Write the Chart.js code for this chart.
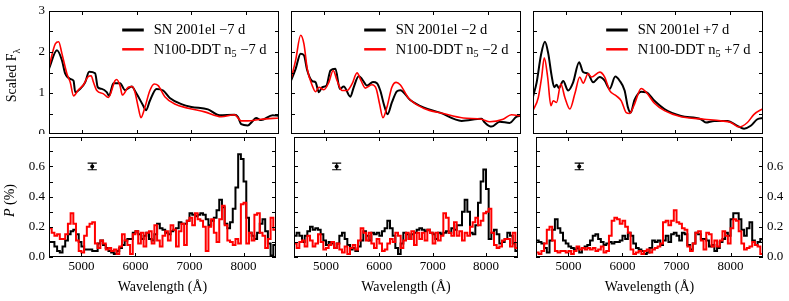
<!DOCTYPE html>
<html><head><meta charset="utf-8"><title>SN 2001el spectropolarimetry vs N100-DDT</title>
<script src="https://cdn.jsdelivr.net/npm/chart.js@4.4.1/dist/chart.umd.min.js"></script>
<style>
html,body{margin:0;padding:0;background:#fff;overflow:hidden}
body{position:relative;width:789px;height:301px}
canvas{position:absolute;display:block}
</style></head><body>
<canvas id="f1"></canvas><canvas id="f2"></canvas><canvas id="f3"></canvas>
<canvas id="p1"></canvas><canvas id="p2"></canvas><canvas id="p3"></canvas>
<script>
// ---------------- data ----------------
const WAVE_MIN = 4400, WAVE_MAX = 8600;
const xTicks = [5000, 6000, 7000, 8000];
const fluxMax = 3;
const fluxTicks = [0, 0.5, 1, 1.5, 2, 2.5, 3];
const fluxLabels = [0, 1, 2, 3];
const polMax = 0.795;
const polTicks = [0, 0.1, 0.2, 0.3, 0.4, 0.5, 0.6, 0.7];
const polLabels = [0, 0.2, 0.4, 0.6];
const epochs = ['\u22127 d', '\u22122 d', '+7 d'];

// scaled flux, SN 2001el (observed)
const wObsM7 = [4400,4545,4636,4697,4788,4848,4879,4970,5060,5133,5242,5291,5364,5454,5497,5576,5697,5788,5909,6000,6121,6170,6242,6363,6485,6606,6818,7000,7303,7515,7788,7848,7909,8030,8121,8182,8273,8485,8600];
const fObsM7 = [1.59,2.04,1.80,1.47,1.34,1.30,1.02,1.10,1.26,1.52,1.48,1.14,1.10,1.02,0.93,1.24,1.24,1.07,1.16,0.98,0.69,0.58,0.81,1.10,1.06,0.88,0.73,0.66,0.60,0.46,0.47,0.42,0.24,0.21,0.32,0.39,0.34,0.46,0.44];
const wObsM2 = [4400,4485,4576,4636,4697,4788,4848,4909,4970,5048,5121,5212,5291,5364,5485,5545,5636,5697,5788,5897,5970,6030,6103,6164,6242,6333,6394,6576,6818,7121,7515,7879,7939,8060,8212,8394,8515,8600];
const fObsM2 = [1.30,1.59,1.96,1.92,1.55,1.29,1.26,1.02,1.14,1.18,1.55,1.59,1.10,1.16,0.91,1.14,1.41,1.34,1.18,1.27,1.24,1.06,0.69,0.48,0.77,1.04,1.07,0.83,0.65,0.52,0.32,0.37,0.28,0.18,0.30,0.27,0.42,0.44];
const wObsP7 = [4400,4467,4545,4618,4679,4739,4788,4830,4873,4951,5042,5133,5242,5315,5406,5497,5618,5709,5800,5903,5982,6073,6133,6182,6254,6376,6467,6618,6800,7103,7466,7557,7709,7951,8133,8254,8376,8497,8600];
const fObsP7 = [0.91,1.26,1.92,2.25,1.96,1.43,1.14,1.20,1.12,1.29,1.06,1.26,1.75,1.51,1.47,1.26,1.39,1.30,1.10,1.40,1.30,1.06,0.65,0.52,0.83,1.03,1.02,0.81,0.61,0.44,0.36,0.28,0.32,0.32,0.20,0.13,0.20,0.36,0.39];

// scaled flux, N100-DDT n5 (model)
const wModM7 = [4400,4515,4576,4636,4727,4788,4848,4939,5030,5109,5170,5212,5273,5394,5485,5606,5636,5697,5739,5848,5921,5970,6030,6079,6151,6242,6321,6394,6515,6697,6939,7242,7545,7788,7909,8030,8273,8600];
const fModM7 = [1.63,2.20,2.25,1.96,1.47,1.26,0.93,1.08,1.20,1.39,1.42,1.26,1.06,0.98,0.89,1.30,1.33,1.18,0.95,1.14,1.16,1.02,0.65,0.40,0.65,1.06,1.22,1.18,0.91,0.73,0.63,0.54,0.42,0.47,0.32,0.32,0.36,0.39];
const wModM2 = [4400,4485,4576,4636,4697,4788,4848,4909,5000,5091,5170,5242,5333,5424,5515,5606,5679,5757,5879,5957,6018,6079,6151,6242,6321,6394,6545,6818,7182,7545,7879,8030,8273,8424,8600];
const fModM2 = [1.34,1.80,2.41,2.20,1.59,1.18,1.03,1.14,1.08,1.26,1.55,1.30,1.06,1.06,1.22,1.49,1.30,1.12,1.20,1.10,0.73,0.40,0.65,1.14,1.26,1.20,0.88,0.63,0.50,0.39,0.36,0.30,0.36,0.47,0.44];
const wModP7 = [4400,4497,4558,4606,4667,4727,4770,4830,4909,4982,5073,5164,5254,5315,5406,5467,5618,5709,5800,5921,6012,6103,6164,6254,6376,6467,6618,6800,7103,7527,7830,8012,8164,8315,8436,8600];
const fModP7 = [0.57,0.89,1.39,1.86,1.39,0.69,0.81,0.77,1.22,0.89,0.61,0.98,1.39,1.24,1.47,1.39,1.51,1.39,1.06,0.93,0.81,0.52,0.50,0.73,1.11,1.02,0.75,0.57,0.42,0.36,0.32,0.28,0.17,0.28,0.48,0.62];

// polarization P (%), 50 A bins starting at 4400 A
const polBinWidth = 50;
const polObsM7 = [0.10,0.10,0.07,0.04,0.03,0.07,0.11,0.15,0.17,0.18, 0.15,0.10,0.07,0.05,0.05,0.05,0.04,0.04,0.09,0.11, 0.08,0.06,0.04,0.03,0.02,0.04,0.06,0.08,0.11,0.12, 0.12,0.16,0.17,0.15,0.12,0.14,0.16,0.12,0.11,0.15, 0.22,0.19,0.18,0.16,0.15,0.17,0.18,0.19,0.23,0.22, 0.22,0.24,0.29,0.28,0.27,0.28,0.29,0.28,0.25,0.21, 0.24,0.26,0.31,0.38,0.33,0.22,0.19,0.23,0.32,0.46, 0.68,0.65,0.50,0.26,0.16,0.14,0.12,0.16,0.22,0.25, 0.17,0.09,0.01,0.08];
const polModM7 = [0.19,0.16,0.14,0.15,0.12,0.12,0.15,0.22,0.29,0.22, 0.11,0.04,0.03,0.14,0.20,0.22,0.23,0.09,0.06,0.11, 0.09,0.05,0.06,0.04,0.05,0.02,0.07,0.15,0.11,0.08, 0.02,0.15,0.17,0.09,0.16,0.07,0.16,0.17,0.09,0.21, 0.11,0.07,0.14,0.17,0.11,0.21,0.18,0.07,0.17,0.22, 0.08,0.24,0.26,0.21,0.29,0.25,0.24,0.20,0.04,0.20, 0.25,0.16,0.10,0.25,0.34,0.21,0.11,0.10,0.08,0.12, 0.09,0.35,0.36,0.09,0.16,0.11,0.28,0.29,0.16,0.14, 0.06,0.12,0.26,0.18];
const polObsM2 = [0.14,0.16,0.14,0.10,0.14,0.17,0.20,0.18,0.19,0.18, 0.15,0.11,0.08,0.10,0.09,0.06,0.09,0.14,0.16,0.12, 0.08,0.05,0.06,0.04,0.07,0.11,0.17,0.14,0.11,0.16, 0.15,0.16,0.14,0.17,0.19,0.24,0.19,0.14,0.06,0.02, 0.09,0.16,0.15,0.12,0.15,0.16,0.18,0.19,0.18,0.17, 0.18,0.16,0.15,0.12,0.16,0.15,0.16,0.17,0.16,0.19, 0.18,0.21,0.21,0.30,0.38,0.30,0.16,0.15,0.21,0.36, 0.50,0.58,0.45,0.12,0.16,0.18,0.15,0.09,0.10,0.12, 0.16,0.14,0.09,0.04];
const polModM2 = [0.09,0.06,0.10,0.11,0.07,0.14,0.11,0.07,0.09,0.15, 0.10,0.05,0.06,0.08,0.10,0.06,0.09,0.05,0.03,0.07, 0.02,0.06,0.08,0.05,0.11,0.19,0.16,0.11,0.16,0.09, 0.06,0.12,0.09,0.04,0.05,0.09,0.12,0.10,0.16,0.14, 0.06,0.11,0.16,0.12,0.17,0.08,0.16,0.12,0.16,0.11, 0.18,0.16,0.09,0.16,0.11,0.14,0.29,0.26,0.16,0.14, 0.23,0.14,0.17,0.11,0.16,0.14,0.20,0.23,0.26,0.21, 0.24,0.29,0.30,0.32,0.16,0.08,0.06,0.07,0.11,0.12, 0.12,0.07,0.16,0.06];
const polObsP7 = [0.11,0.10,0.09,0.06,0.03,0.11,0.18,0.25,0.19,0.16, 0.11,0.09,0.07,0.06,0.05,0.06,0.03,0.06,0.07,0.08, 0.11,0.14,0.15,0.12,0.10,0.08,0.09,0.10,0.09,0.10, 0.10,0.11,0.14,0.12,0.16,0.14,0.09,0.06,0.05,0.04, 0.02,0.03,0.06,0.11,0.10,0.11,0.08,0.11,0.14,0.10, 0.15,0.16,0.14,0.11,0.16,0.15,0.08,0.05,0.09,0.16, 0.15,0.12,0.12,0.11,0.07,0.08,0.04,0.06,0.10,0.12, 0.16,0.14,0.25,0.29,0.29,0.25,0.18,0.14,0.19,0.23, 0.11,0.08,0.10,0.12];
const polModP7 = [0.03,0.02,0.04,0.09,0.18,0.20,0.11,0.04,0.03,0.04, 0.04,0.03,0.04,0.02,0.04,0.07,0.05,0.06,0.05,0.06, 0.05,0.06,0.04,0.05,0.07,0.03,0.04,0.14,0.24,0.26, 0.25,0.22,0.24,0.20,0.16,0.05,0.02,0.03,0.04,0.02, 0.04,0.05,0.03,0.05,0.06,0.07,0.09,0.23,0.24,0.21, 0.24,0.31,0.23,0.22,0.19,0.18,0.07,0.04,0.09,0.16, 0.17,0.11,0.05,0.16,0.15,0.07,0.11,0.07,0.11,0.17, 0.14,0.09,0.19,0.25,0.24,0.17,0.09,0.05,0.06,0.07, 0.10,0.08,0.07,0.02];

// typical error bar
const errWave = 5200, errP = 0.60, errDp = 0.022, errCapHalf = 85;

const obsW = [wObsM7, wObsM2, wObsP7], obsF = [fObsM7, fObsM2, fObsP7];
const modW = [wModM7, wModM2, wModP7], modF = [fModM7, fModM2, fModP7];
const polObs = [polObsM7, polObsM2, polObsP7], polMod = [polModM7, polModM2, polModP7];

// ---------------- helpers ----------------
const FAMILY = '"Liberation Serif","Times New Roman",serif';
Chart.defaults.font.family = FAMILY;
Chart.defaults.color = '#000';
const OBS_COLOR = '#000000', MOD_COLOR = '#ff0000';
const TICK_LEN = 4;

const zip = (w, f) => w.map((x, i) => ({x, y: f[i]}));
const polWave = polObs[0].map((_, i) => WAVE_MIN + polBinWidth * i);
function stepData(vals) {
  const d = vals.map((v, i) => ({x: polWave[i], y: v}));
  d.push({x: WAVE_MAX, y: vals[vals.length - 1]});
  return d;
}
function errbarData() {
  const hi = errP + errDp, lo = errP - errDp;
  return [
    {x: errWave - errCapHalf, y: hi}, {x: errWave + errCapHalf, y: hi}, {x: errWave, y: null},
    {x: errWave, y: hi}, {x: errWave, y: lo}, {x: errWave, y: null},
    {x: errWave - errCapHalf, y: lo}, {x: errWave + errCapHalf, y: lo}
  ];
}
function segFont(s, size) { return (s.italic ? 'italic ' : '') + (s.sub ? size * 0.7 : size) + 'px ' + FAMILY; }
function segsWidth(ctx, segs, size) { let w = 0; for (const s of segs) { ctx.font = segFont(s, size); w += ctx.measureText(s.t).width; } return w; }
function drawSegs(ctx, segs, x, y, size) {
  for (const s of segs) { ctx.font = segFont(s, size); ctx.fillText(s.t, x, y + (s.sub ? size * 0.25 : 0)); x += ctx.measureText(s.t).width; }
}

const decor = {
  id: 'decor',
  afterDraw(chart, args, o) {
    const ctx = chart.ctx, a = chart.chartArea;
    const xs = chart.scales.x, ys = chart.scales.y;
    ctx.save();
    ctx.strokeStyle = '#000'; ctx.lineWidth = 1;
    ctx.beginPath();
    xTicks.forEach(v => { const p = Math.round(xs.getPixelForValue(v)) + 0.5;
      ctx.moveTo(p, a.top); ctx.lineTo(p, a.top + TICK_LEN); ctx.moveTo(p, a.bottom); ctx.lineTo(p, a.bottom - TICK_LEN); });
    o.yTicks.forEach(v => { const p = Math.round(ys.getPixelForValue(v)) + 0.5;
      ctx.moveTo(a.left, p); ctx.lineTo(a.left + TICK_LEN, p); ctx.moveTo(a.right, p); ctx.lineTo(a.right - TICK_LEN, p); });
    ctx.stroke();
    ctx.strokeRect(a.left + 0.5, a.top + 0.5, a.right - a.left - 1, a.bottom - a.top - 1);
    ctx.fillStyle = '#000'; ctx.textAlign = 'left'; ctx.textBaseline = 'alphabetic';
    if (o.legend) {
      const size = 14.5;
      const widths = o.legend.map(it => segsWidth(ctx, it.segs, size));
      const tx = a.right - 12.5 - Math.max(...widths);
      o.legend.forEach((it, k) => {
        const y = a.top + 19 + k * 19.3;
        ctx.strokeStyle = it.color; ctx.lineWidth = it.lw;
        ctx.beginPath(); ctx.moveTo(tx - 31.6, y); ctx.lineTo(tx - 10, y); ctx.stroke();
        drawSegs(ctx, it.segs, tx, y + size * 0.3, size);
      });
    }
    if (o.ytitle) {
      const t = o.ytitle, size = 14;
      ctx.save();
      ctx.translate(a.left - t.dx, (a.top + a.bottom) / 2 + t.dy);
      ctx.rotate(-Math.PI / 2);
      const w = segsWidth(ctx, t.segs, size);
      drawSegs(ctx, t.segs, -w / 2, 0, size);
      ctx.restore();
    }
    ctx.restore();
  }
};

const panels = [
  {id: 'f1', kind: 'flux', i: 0, left: 0,   top: 0,   w: 280, h: 134, pad: {left: 0, right: 1, top: 11, bottom: 0}, yPos: 'left', yW: 49,
   ytitle: {segs: [{t: 'Scaled F'}, {t: '\u03bb', sub: true}], dx: 33, dy: 3}},
  {id: 'f2', kind: 'flux', i: 1, left: 290, top: 0,   w: 232, h: 134, pad: {left: 1, right: 1, top: 11, bottom: 0}},
  {id: 'f3', kind: 'flux', i: 2, left: 532, top: 0,   w: 232, h: 134, pad: {left: 1, right: 1, top: 11, bottom: 0}},
  {id: 'p1', kind: 'pol',  i: 0, left: 0,   top: 133, w: 280, h: 168, pad: {left: 0, right: 1, top: 1, bottom: 0}, yPos: 'left', yW: 49, xH: 44,
   ytitle: {segs: [{t: 'P', italic: true}, {t: ' (%)'}], dx: 35, dy: 3.5}},
  {id: 'p2', kind: 'pol',  i: 1, left: 290, top: 133, w: 232, h: 168, pad: {left: 1, right: 1, top: 1, bottom: 0}, xH: 44},
  {id: 'p3', kind: 'pol',  i: 2, left: 532, top: 133, w: 257, h: 168, pad: {left: 1, right: 0, top: 1, bottom: 0}, yPos: 'right', yW: 26, xH: 44}
];

panels.forEach(cfg => {
  const el = document.getElementById(cfg.id);
  el.width = cfg.w; el.height = cfg.h;
  Object.assign(el.style, {left: cfg.left + 'px', top: cfg.top + 'px', width: cfg.w + 'px', height: cfg.h + 'px'});
  const isPol = cfg.kind === 'pol';
  const i = cfg.i;
  let datasets;
  if (!isPol) {
    datasets = [
      {label: 'N100-DDT n5 ' + epochs[i], data: zip(modW[i], modF[i]), borderColor: MOD_COLOR, borderWidth: 1.6,
       pointRadius: 0, cubicInterpolationMode: 'monotone', order: 0},
      {label: 'SN 2001el ' + epochs[i], data: zip(obsW[i], obsF[i]), borderColor: OBS_COLOR, borderWidth: 2,
       pointRadius: 0, cubicInterpolationMode: 'monotone', order: 1}
    ];
  } else {
    datasets = [
      {label: 'error', data: errbarData(), borderColor: '#000', borderWidth: 1.2, pointRadius: 0, spanGaps: false, order: 0},
      {label: 'error centre', data: [{x: errWave, y: errP}], borderColor: '#000', backgroundColor: '#000', showLine: false,
       pointRadius: 2, pointBorderWidth: 0, order: 0},
      {label: 'N100-DDT n5 ' + epochs[i], data: stepData(polMod[i]), borderColor: MOD_COLOR, borderWidth: 2,
       pointRadius: 0, stepped: true, order: 1},
      {label: 'SN 2001el ' + epochs[i], data: stepData(polObs[i]), borderColor: OBS_COLOR, borderWidth: 2,
       pointRadius: 0, stepped: true, order: 2}
    ];
  }
  const yT = isPol ? polTicks : fluxTicks;
  const yL = isPol ? polLabels : fluxLabels;
  new Chart(el, {
    type: 'line',
    data: {datasets},
    plugins: [decor],
    options: {
      responsive: false, animation: false, devicePixelRatio: 1, events: [],
      layout: {padding: cfg.pad},
      plugins: {
        legend: {display: false}, tooltip: {enabled: false},
        decor: {
          yTicks: yT,
          ytitle: cfg.ytitle || null,
          legend: isPol ? null : [
            {segs: [{t: 'SN 2001el ' + epochs[i]}], color: OBS_COLOR, lw: 3},
            {segs: [{t: 'N100-DDT n'}, {t: '5', sub: true}, {t: ' ' + epochs[i]}], color: MOD_COLOR, lw: 2.5}
          ]
        }
      },
      scales: {
        x: {
          type: 'linear', min: WAVE_MIN, max: WAVE_MAX, position: 'bottom', display: !!cfg.xH,
          grid: {display: false, drawTicks: false}, border: {display: false},
          ticks: {padding: 2, font: {size: 13}, maxRotation: 0, autoSkip: false, callback: v => String(v)},
          title: {display: true, text: 'Wavelength (\u00c5)', font: {size: 14}, padding: {top: 0, bottom: 5}},
          afterBuildTicks: s => { s.ticks = xTicks.map(v => ({value: v})); },
          afterFit: s => { if (cfg.xH) s.height = cfg.xH; s.paddingLeft = 0; s.paddingRight = 0; }
        },
        y: {
          type: 'linear', min: 0, max: isPol ? polMax : fluxMax, position: cfg.yPos || 'left', display: !!cfg.yPos,
          grid: {display: false, drawTicks: false}, border: {display: false},
          ticks: {padding: 4, font: {size: 13}, autoSkip: false,
            callback: v => yL.some(l => Math.abs(l - v) < 1e-9) ? (isPol ? v.toFixed(1) : String(Math.round(v))) : ''},
          afterBuildTicks: s => { s.ticks = yT.map(v => ({value: v})); },
          afterFit: s => { if (cfg.yW) s.width = cfg.yW; s.paddingTop = 0; s.paddingBottom = 0; }
        }
      }
    }
  });
});
</script>
</body></html>
